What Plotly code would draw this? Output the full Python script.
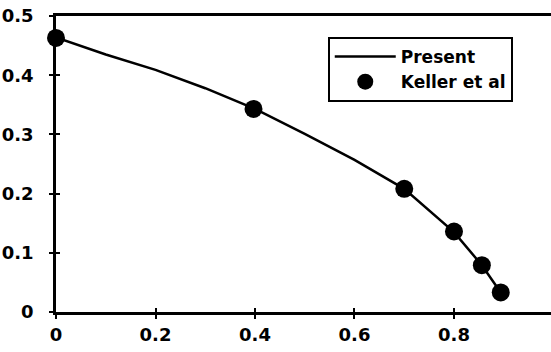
import plotly.graph_objects as go

# Present (line) curve
present_x = [0.0, 0.1, 0.2, 0.3, 0.4, 0.5, 0.6, 0.7, 0.8, 0.856, 0.894]
present_y = [0.464, 0.435, 0.409, 0.378, 0.343, 0.301, 0.257, 0.208, 0.135, 0.079, 0.033]

# Keller et al (points)
keller_x = [0.0, 0.397, 0.70, 0.80, 0.856, 0.894]
keller_y = [0.463, 0.343, 0.208, 0.136, 0.079, 0.033]

x_tickvals = [0, 0.2, 0.4, 0.6, 0.8, 1.0]
x_ticktext = ["0", "0.2", "0.4", "0.6", "0.8", "1"]
y_tickvals = [0, 0.1, 0.2, 0.3, 0.4, 0.5]
y_ticktext = ["0", "0.1", "0.2", "0.3", "0.4", "0.5"]

FONT = dict(family="DejaVu Sans", size=18, color="black", weight="bold")

fig = go.Figure()
fig.add_trace(go.Scatter(x=present_x, y=present_y, mode="lines", name="Present",
                         line=dict(color="black", width=2.5), cliponaxis=False))
fig.add_trace(go.Scatter(x=keller_x, y=keller_y, mode="markers", name="Keller et al",
                         marker=dict(color="black", size=18), cliponaxis=False))
# invisible trace on overlay axes to show inward tick halves
fig.add_trace(go.Scatter(x=[0], y=[0], xaxis="x2", yaxis="y2", mode="markers",
                         marker=dict(opacity=0), showlegend=False, hoverinfo="skip"))

xr = [0, 0.995]
yr = [0, 0.5]
fig.update_layout(
    width=551, height=352,
    margin=dict(l=56, r=0, t=16, b=40, autoexpand=False),
    paper_bgcolor="white", plot_bgcolor="white",
    font=FONT,
    showlegend=True,
    legend=dict(x=0.549, y=0.929, xanchor="left", yanchor="top",
                bgcolor="white", bordercolor="black", borderwidth=2,
                font=dict(family="DejaVu Sans", size=17, color="black", weight="bold"),
                itemwidth=61, tracegroupgap=4),
    xaxis=dict(range=xr, tickvals=x_tickvals, ticktext=x_ticktext, automargin=False,
               showgrid=False, zeroline=False, showline=True, linecolor="black",
               linewidth=2.5, mirror=True, ticks="outside", ticklen=4, tickwidth=2,
               tickcolor="black", ticklabelstandoff=1, tickfont=FONT),
    yaxis=dict(range=yr, tickvals=y_tickvals, ticktext=y_ticktext, automargin=False,
               showgrid=False, zeroline=False, showline=True, linecolor="black",
               linewidth=2.5, mirror=False, ticks="outside", ticklen=4, tickwidth=2,
               tickcolor="black", ticklabelstandoff=12, tickfont=FONT),
    xaxis2=dict(range=xr, overlaying="x", tickvals=x_tickvals, showticklabels=False,
                showgrid=False, zeroline=False, showline=False, ticks="inside",
                ticklen=4, tickwidth=2, tickcolor="black", side="bottom", anchor="y"),
    yaxis2=dict(range=yr, overlaying="y", tickvals=y_tickvals[:-1], showticklabels=False,
                showgrid=False, zeroline=False, showline=False, ticks="inside",
                ticklen=4, tickwidth=2, tickcolor="black", side="left", anchor="x"),
)

fig.write_html("out.html", config={"displayModeBar": False},
               post_script="document.body.style.margin='0';")
